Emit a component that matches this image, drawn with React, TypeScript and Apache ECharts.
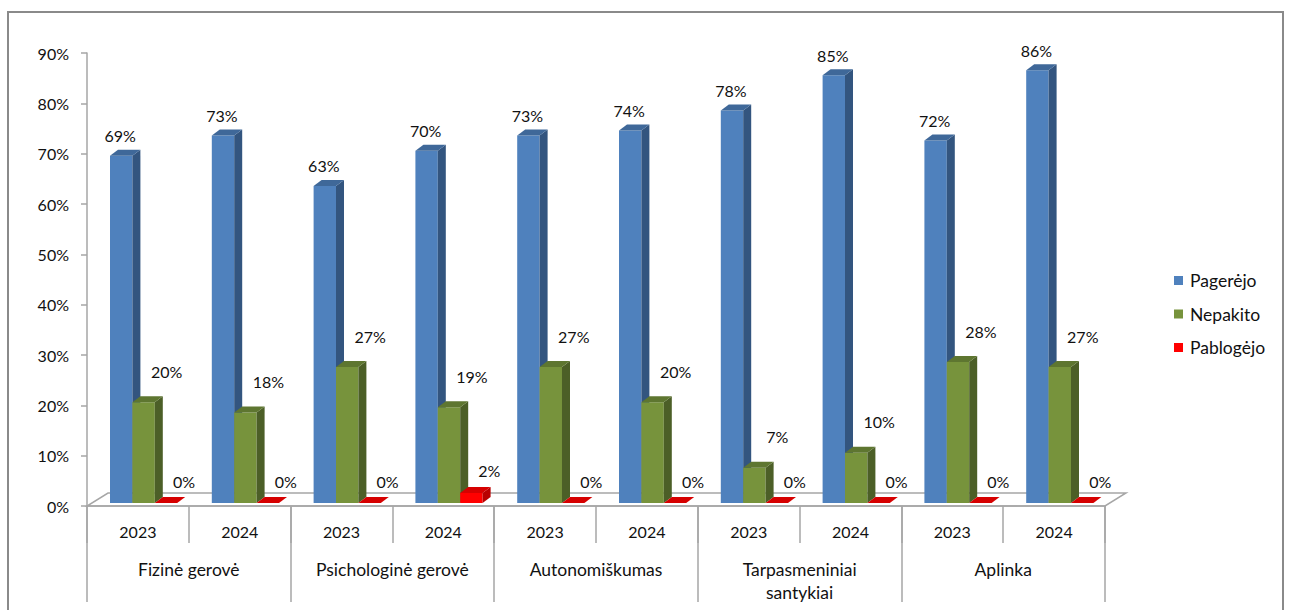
import React, { useEffect, useRef } from "react";
import * as echarts from "echarts";

// Categories: five wellbeing areas, each surveyed in two years
const groups = [
  "Fizinė gerovė",
  "Psichologinė gerovė",
  "Autonomiškumas",
  "Tarpasmeniniai\nsantykiai",
  "Aplinka",
];
const years = ["2023", "2024"];

// Share of respondents (%), one value per (area, year) slot in order
const pagerejo = [69, 73, 63, 70, 73, 74, 78, 85, 72, 86];
const nepakito = [20, 18, 27, 19, 27, 20, 7, 10, 28, 27];
const pablogejo = [0, 0, 0, 2, 0, 0, 0, 0, 0, 0];

const seriesNames = ["Pagerėjo", "Nepakito", "Pablogėjo"];
const seriesValues = [pagerejo, nepakito, pablogejo];
const yTicks = { min: 0, max: 90, interval: 10 };

// Face colours for the pseudo-3D columns: front, side, top
const faces = [
  { front: "#4F81BD", side: "#33557F", top: "#3F6899" },
  { front: "#77933C", side: "#4C5F27", top: "#5E7630" },
  { front: "#FF0000", side: "#B80000", top: "#D60000" },
];
// Label nudges per series (relative to the front face's top centre)
const labelShift = [
  { dx: -1, dy: -20 },
  { dx: 23, dy: -31 },
  { dx: 18, dy: -22 },
];

const FONT = "Lato";
const TEXT = "#111111";
const AXIS = "#A6A6A6";
const NUM_SIZE = 16;
const WORD_SIZE = 17.5;

const GRID_LEFT = 87;
const GRID_RIGHT_X = 1105;
const GRID_TOP = 53;
const AXIS_Y = 506;
const W = 1290;
const H = 610;

const DEPTH_X = 8; // column depth projection
const DEPTH_Y = -6;
const FLOOR_DX = 21; // floor depth projection
const FLOOR_DY = -13;
const INSET = 3; // columns stand slightly behind the floor's front edge
const BAR_FRAC = 0.22;
const LEAD_FRAC = 0.226;

const slotLabels = groups.flatMap(() => years);

function makeRenderer(s: number) {
  return (_params: any, api: any) => {
    const idx = api.value(0);
    const val = api.value(1);
    const p0 = api.coord([idx, 0]);
    const pv = api.coord([idx, val]);
    const slotW = api.size([1, 0])[0];
    const barW = slotW * BAR_FRAC;
    const x0 = p0[0] - slotW / 2 + slotW * LEAD_FRAC + s * barW;
    const x1 = x0 + barW;
    const base = p0[1] - INSET;
    const top = pv[1] - INSET;
    const f = faces[s];
    const children: any[] = [];
    if (base - top > 0.01) {
      children.push({
        type: "rect",
        shape: { x: x0, y: top, width: barW, height: base - top },
        style: { fill: f.front },
      });
      children.push({
        type: "polygon",
        shape: {
          points: [
            [x1, top],
            [x1 + DEPTH_X, top + DEPTH_Y],
            [x1 + DEPTH_X, base + DEPTH_Y],
            [x1, base],
          ],
        },
        style: { fill: f.side },
      });
    }
    children.push({
      type: "polygon",
      shape: {
        points: [
          [x0, top],
          [x0 + DEPTH_X, top + DEPTH_Y],
          [x1 + DEPTH_X, top + DEPTH_Y],
          [x1, top],
        ],
      },
      style: { fill: f.top },
    });
    const ls = labelShift[s];
    children.push({
      type: "text",
      z2: 100,
      style: {
        text: `${val}%`,
        x: (x0 + x1) / 2 + ls.dx,
        y: top + ls.dy,
        fill: TEXT,
        fontFamily: FONT,
        fontSize: NUM_SIZE,
        align: "center",
        verticalAlign: "middle",
      },
    });
    return { type: "group", children };
  };
}

export default function App() {
  const ref = useRef<HTMLDivElement>(null);

  useEffect(() => {
    if (!ref.current) return;
    document.body.style.margin = "0";
    const chart = echarts.init(ref.current, undefined, { renderer: "svg" });

    const series = seriesNames.map((name, s) => ({
      name,
      type: "custom",
      xAxisIndex: 0,
      yAxisIndex: 0,
      itemStyle: { color: faces[s].front },
      encode: { x: 0, y: 1 },
      data: seriesValues[s].map((v, i) => [i, v]),
      renderItem: makeRenderer(s),
      clip: false,
    }));

    chart.setOption({
      animation: false,
      backgroundColor: "#ffffff",
      textStyle: { fontFamily: FONT, color: TEXT },
      grid: {
        left: GRID_LEFT,
        right: W - GRID_RIGHT_X,
        top: GRID_TOP,
        bottom: H - AXIS_Y,
        containLabel: false,
      },
      legend: {
        orient: "vertical",
        left: 1174,
        top: 271,
        padding: 0,
        icon: "rect",
        itemWidth: 9,
        itemHeight: 9,
        itemGap: 14.5,
        data: seriesNames,
        textStyle: {
          fontFamily: FONT,
          fontSize: WORD_SIZE,
          lineHeight: 19,
          color: TEXT,
          padding: [0, 0, 0, 2],
        },
        selectedMode: false,
      },
      xAxis: [
        {
          type: "category",
          position: "bottom",
          data: slotLabels,
          boundaryGap: true,
          axisLine: { show: true, lineStyle: { color: AXIS, width: 1.5 } },
          axisTick: {
            show: true,
            interval: 0,
            length: 37,
            lineStyle: { color: AXIS, width: 1.5 },
          },
          axisLabel: {
            interval: 0,
            margin: 16,
            fontFamily: FONT,
            fontSize: NUM_SIZE,
            lineHeight: 19,
            color: TEXT,
          },
          splitLine: { show: false },
        },
        {
          type: "category",
          position: "bottom",
          offset: 0,
          data: groups,
          boundaryGap: true,
          axisLine: { show: false },
          axisTick: {
            show: true,
            interval: 0,
            length: 96,
            lineStyle: { color: AXIS, width: 1.5 },
          },
          axisLabel: {
            interval: 0,
            margin: 52,
            fontFamily: FONT,
            fontSize: WORD_SIZE,
            lineHeight: 23,
            color: TEXT,
          },
          splitLine: { show: false },
        },
      ],
      yAxis: {
        type: "value",
        min: yTicks.min,
        max: yTicks.max,
        interval: yTicks.interval,
        axisLine: { show: true, lineStyle: { color: AXIS, width: 1.5 } },
        axisTick: {
          show: true,
          inside: false,
          length: 6,
          lineStyle: { color: AXIS, width: 1.5 },
        },
        axisLabel: {
          formatter: "{value}%",
          margin: 18,
          fontFamily: FONT,
          fontSize: NUM_SIZE,
          color: TEXT,
        },
        splitLine: { show: false },
      },
      graphic: [
        {
          type: "rect",
          z: -10,
          silent: true,
          shape: { x: 8, y: 12, width: 1275, height: 700 },
          style: { fill: "none", stroke: "#8A8A8A", lineWidth: 2 },
        },
        {
          type: "polygon",
          z: 0,
          silent: true,
          shape: {
            points: [
              [GRID_LEFT, AXIS_Y],
              [GRID_RIGHT_X, AXIS_Y],
              [GRID_RIGHT_X + FLOOR_DX, AXIS_Y + FLOOR_DY],
              [GRID_LEFT + FLOOR_DX, AXIS_Y + FLOOR_DY],
            ],
          },
          style: { fill: "#ffffff", stroke: AXIS, lineWidth: 1.5 },
        },
      ],
      series,
    });

    return () => chart.dispose();
  }, []);

  return (
    <div
      ref={ref}
      style={{ position: "absolute", left: 0, top: 0, width: W, height: H }}
    />
  );
}
